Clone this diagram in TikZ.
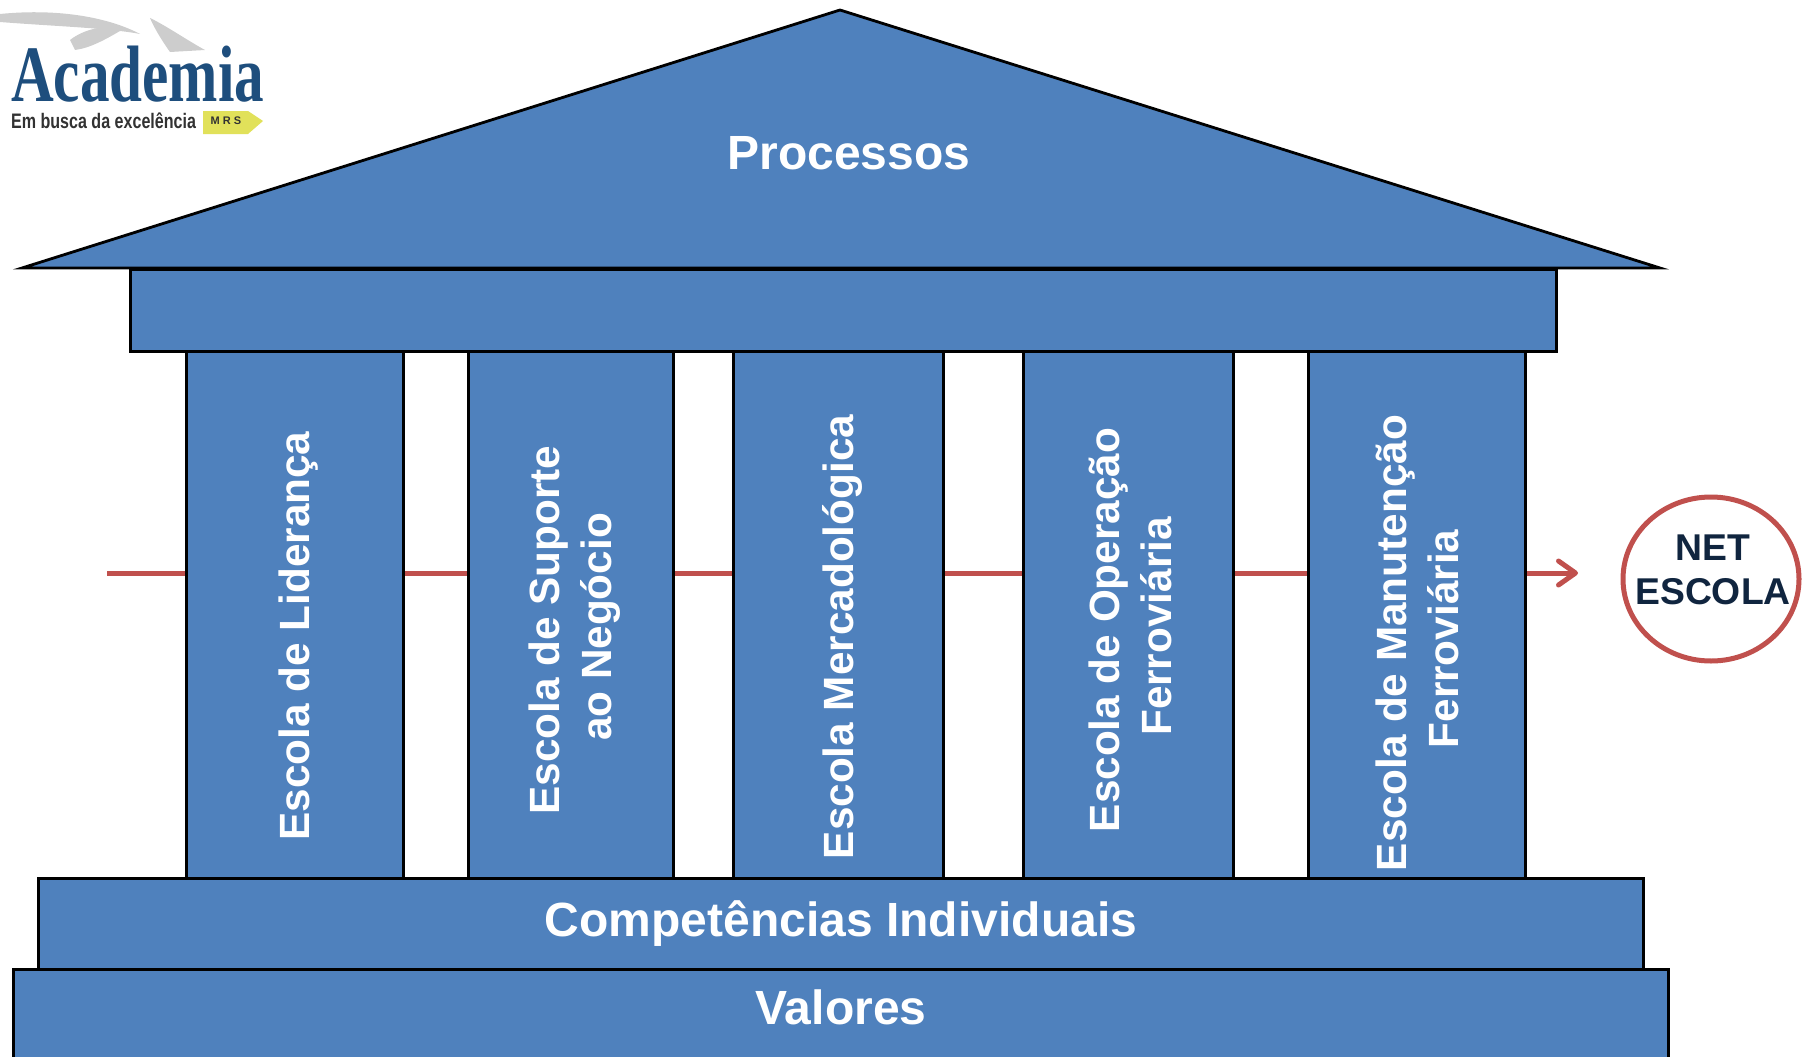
\documentclass[tikz,border=0pt]{standalone}
\usepackage{fontspec}
\setmainfont{Liberation Sans}
\newfontfamily\logoserif{Liberation Serif}
\usetikzlibrary{arrows.meta}
\definecolor{blockblue}{RGB}{79,129,189}
\definecolor{netred}{RGB}{192,80,77}
\definecolor{netnavy}{RGB}{16,37,63}
\definecolor{logoblue}{RGB}{30,78,125}
\definecolor{logogray}{RGB}{50,50,50}
\definecolor{logoyellow}{RGB}{225,225,90}
\definecolor{wing}{RGB}{205,205,205}
\tikzset{
 x=1pt,y=-1pt,
 block/.style={draw=black,line width=2.8pt,fill=blockblue,inner sep=0pt,anchor=north west},
 blocktext/.style={text=white,font=\fontsize{48}{52}\selectfont\bfseries,inner sep=0pt},
 pillartext/.style={text=white,font=\fontsize{42.3}{52}\selectfont\bfseries,align=center,inner sep=0pt,rotate=90},
 redline/.style={draw=netred,line width=5pt},
}
\newcommand{\blk}[5]{\node[block,minimum width=#4-#2,minimum height=#5-#3] (#1) at (#2,#3) {};}
\begin{document}
\begin{tikzpicture}
\useasboundingbox (0,0) rectangle (1802,1057);
% logo
\fill[wing] (0,14) .. controls (60,8) and (110,18) .. (140,34) .. controls (110,28) and (50,26) .. (0,22) -- cycle;
\fill[wing] (70,40) .. controls (85,28) and (110,24) .. (125,28) .. controls (105,40) and (90,48) .. (75,50) -- cycle;
\fill[wing] (150,18) .. controls (165,25) and (190,42) .. (205,50) -- (170,52) .. controls (165,45) and (155,30) .. (150,18) -- cycle;
\node[text=logoblue,font=\logoserif\bfseries\fontsize{80}{80}\selectfont,inner sep=0pt,anchor=base west,xscale=0.74] (logotitle) at (11,102) {Academia};
\node[text=logogray,font=\bfseries\fontsize{21}{21}\selectfont,inner sep=0pt,anchor=base west,xscale=0.765] (logosub) at (11,128) {Em busca da excelência};
\fill[logoyellow] (203,111) -- (248,111) -- (263,121) -- (248,134) -- (203,134) -- cycle;
\node[text=logogray,font=\bfseries\fontsize{11}{11}\selectfont,inner sep=0pt] (logomrs) at (226,121) {M R S};
% red line
\coordinate (linestart) at (107,573);
\coordinate (lineend) at (1578,573);
\draw[redline,-{Straight Barb[length=17pt,width=24pt,line width=5pt,round]}] (linestart) -- (lineend);
% roof
\node[inner sep=0pt,minimum size=0pt] (apex) at (840,10) {};
\node[inner sep=0pt,minimum size=0pt] (eavel) at (22,268) {};
\node[inner sep=0pt,minimum size=0pt] (eaver) at (1660,268) {};
\filldraw[draw=black,line width=2.8pt,fill=blockblue] (apex.center) -- (eaver.center) -- (eavel.center) -- cycle;
\node[blocktext] (proc) at (849,153) {Processos};
% blocks
\blk{beam}{129}{268}{1555}{350}
\blk{p1}{185}{350}{402}{877}
\blk{p2}{467}{350}{672}{877}
\blk{p3}{732}{350}{942}{877}
\blk{p4}{1022}{350}{1232}{877}
\blk{p5}{1307}{350}{1524}{877}
\blk{comp}{37}{877}{1642}{968}
\blk{val}{12}{968}{1667}{1075}
\node[pillartext] (t1) at (299,636) {Escola de Liderança};
\node[pillartext] (t2) at (575,630) {Escola de Suporte\\\hspace*{6pt}ao Negócio};
\node[pillartext] (t3) at (842,637) {Escola Mercadológica};
\node[pillartext] (t4) at (1130,630) {Escola de Operação\\\hspace*{7pt}Ferroviária};
\node[pillartext] (t5) at (1417,643) {Escola de Manutenção\\\hspace*{8pt}Ferroviária};
\node[blocktext] (tc) at (841,924) {Competências Individuais};
\node[blocktext] (tv) at (841,1007) {Valores};
% circle
\draw[draw=netred,line width=5pt,fill=white] (1711,579) ellipse (88 and 82);
\node[text=netnavy,font=\fontsize{37.3}{44}\selectfont\bfseries,align=center,inner sep=0pt] (net) at (1713,570) {NET\\ESCOLA};
\end{tikzpicture}
\end{document}
